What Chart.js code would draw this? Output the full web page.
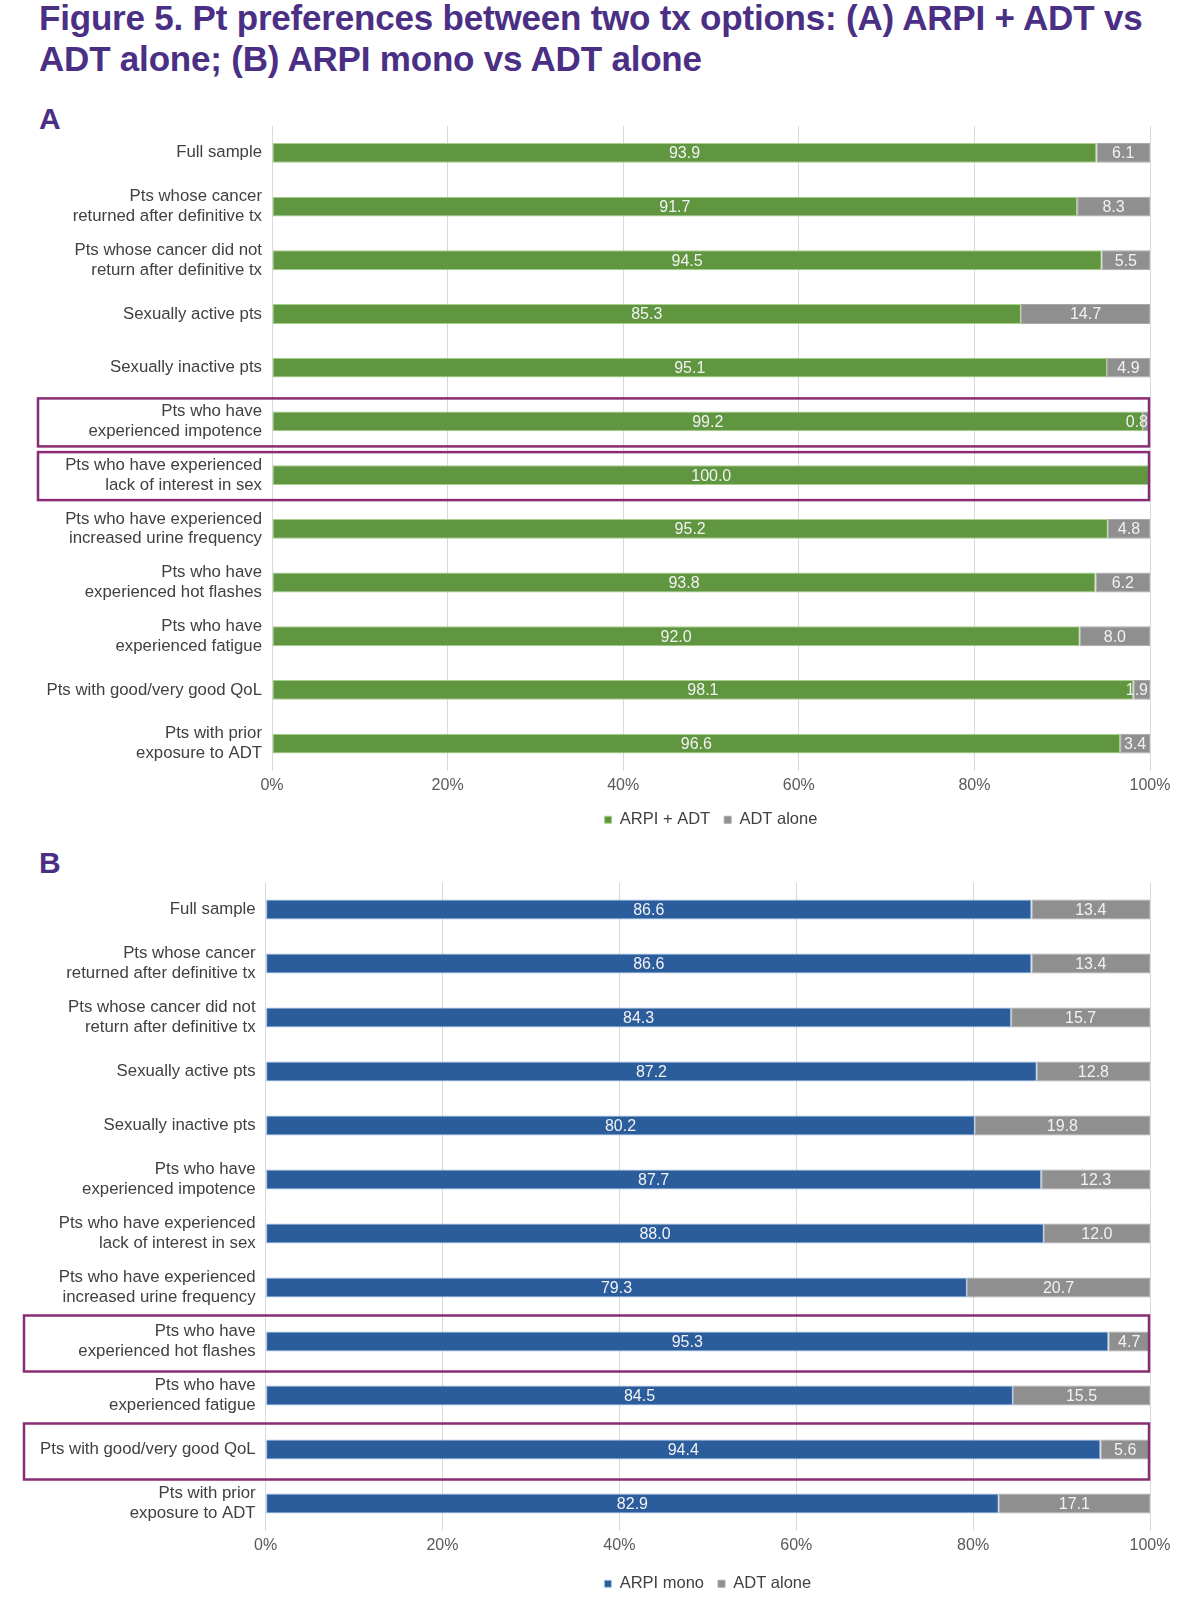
<!DOCTYPE html>
<html>
<head>
<meta charset="utf-8">
<script src="https://cdn.jsdelivr.net/npm/chart.js@4.4.0/dist/chart.umd.min.js"></script>
<style>
  body { margin: 0; background: #fff; width: 1200px; height: 1621px; position: relative; overflow: hidden; font-family: "Liberation Sans", Arial, sans-serif; }
  #title { position: absolute; left: 39px; top: -3px; margin: 0; font-size: 35px; line-height: 41px; font-weight: bold; color: #4a2f85; letter-spacing: -0.2px; }
  .panel { position: absolute; left: 39px; margin: 0; font-size: 30px; font-weight: bold; color: #4a2f85; }
  canvas { position: absolute; left: 0; }
</style>
</head>
<body>
<h1 id="title">Figure 5. Pt preferences between two tx options: (A) ARPI + ADT vs<br>ADT alone; (B) ARPI mono vs ADT alone</h1>
<div class="panel" style="top:102px">A</div>
<div class="panel" style="top:846px">B</div>
<canvas id="chartA" width="1200" height="742" style="top:96px"></canvas>
<canvas id="chartB" width="1200" height="752" style="top:850px"></canvas>
<script>
// row labels (same in both panels)
const categories = [
  "Full sample",
  ["Pts whose cancer", "returned after definitive tx"],
  ["Pts whose cancer did not", "return after definitive tx"],
  "Sexually active pts",
  "Sexually inactive pts",
  ["Pts who have", "experienced impotence"],
  ["Pts who have experienced", "lack of interest in sex"],
  ["Pts who have experienced", "increased urine frequency"],
  ["Pts who have", "experienced hot flashes"],
  ["Pts who have", "experienced fatigue"],
  "Pts with good/very good QoL",
  ["Pts with prior", "exposure to ADT"]
];

// panel A: ARPI + ADT vs ADT alone (%)
const arpiAdt   = [93.9, 91.7, 94.5, 85.3, 95.1, 99.2, 100.0, 95.2, 93.8, 92.0, 98.1, 96.6];
const adtAloneA = [6.1, 8.3, 5.5, 14.7, 4.9, 0.8, 0.0, 4.8, 6.2, 8.0, 1.9, 3.4];

// panel B: ARPI mono vs ADT alone (%)
const arpiMono  = [86.6, 86.6, 84.3, 87.2, 80.2, 87.7, 88.0, 79.3, 95.3, 84.5, 94.4, 82.9];
const adtAloneB = [13.4, 13.4, 15.7, 12.8, 19.8, 12.3, 12.0, 20.7, 4.7, 15.5, 5.6, 17.1];

const xTicks = [0, 20, 40, 60, 80, 100];

// rows outlined in purple
const boxedA = [5, 6];
const boxedB = [8, 10];

const FONT = '"Liberation Sans", Arial, sans-serif';

// light numbers in the middle of every segment (pulled inside the plot when the segment is tiny)
const valueLabels = {
  id: 'valueLabels',
  afterDatasetsDraw(chart) {
    const ctx = chart.ctx;
    const right = chart.chartArea.right;
    ctx.save();
    ctx.font = '16px ' + FONT;
    ctx.fillStyle = '#f2f2f2';
    ctx.textAlign = 'center';
    ctx.textBaseline = 'middle';
    chart.data.datasets.forEach((ds, i) => {
      chart.getDatasetMeta(i).data.forEach((bar, j) => {
        const v = ds.data[j];
        if (!v) return;
        const p = bar.getProps(['x', 'y', 'base'], true);
        const txt = v.toFixed(1);
        const half = ctx.measureText(txt).width / 2;
        const x = Math.min((p.x + p.base) / 2, right - half - 2);
        ctx.fillText(txt, x, p.y + 1);
      });
    });
    ctx.restore();
  }
};

// purple outline round highlighted rows
const rowBoxes = {
  id: 'rowBoxes',
  afterDraw(chart, args, opts) {
    const ctx = chart.ctx;
    const y = chart.scales.y;
    ctx.save();
    ctx.strokeStyle = '#8a2c74';
    ctx.lineWidth = 2.5;
    opts.rows.forEach(r => {
      const c = y.getPixelForValue(r);
      ctx.strokeRect(opts.left, c - opts.up, chart.chartArea.right - 1 - opts.left, opts.up + opts.down);
    });
    ctx.restore();
  }
};

function makeChart(id, first, second, names, colors, borders, yWidth, pad, xHeight, boxes) {
  new Chart(document.getElementById(id), {
    type: 'bar',
    data: {
      labels: categories,
      datasets: [
        { label: names[0], data: first, backgroundColor: colors[0], borderColor: borders[0], borderWidth: 1, borderSkipped: false },
        { label: names[1], data: second, backgroundColor: colors[1], borderColor: borders[1], borderWidth: 1, borderSkipped: false }
      ]
    },
    options: {
      indexAxis: 'y',
      responsive: false,
      animation: false,
      events: [],
      barPercentage: 0.37,
      categoryPercentage: 1,
      layout: { padding: pad },
      scales: {
        x: {
          stacked: true, min: 0, max: 100,
          afterBuildTicks: s => { s.ticks = xTicks.map(v => ({ value: v })); },
          afterFit: s => { s.height = xHeight; },
          grid: { color: '#d9d9d9', drawTicks: false },
          border: { display: false },
          ticks: { padding: 5, color: '#595959', font: { family: FONT, size: 16 }, callback: v => v + '%' }
        },
        y: {
          stacked: true,
          afterFit: s => { s.width = yWidth; },
          grid: { display: false, drawTicks: false },
          border: { display: false },
          ticks: { padding: 10, color: '#404040', font: { family: FONT, size: 16.8, lineHeight: 1.17 } }
        }
      },
      plugins: {
        legend: {
          position: 'bottom',
          fullSize: false,
          labels: {
            usePointStyle: true, pointStyle: 'rect', boxWidth: 7, boxHeight: 7,
            padding: 14, color: '#404040', font: { family: FONT, size: 16.5 }
          }
        },
        tooltip: { enabled: false },
        rowBoxes: boxes
      }
    },
    plugins: [valueLabels, rowBoxes]
  });
}

makeChart('chartA', arpiAdt, adtAloneA, ['ARPI + ADT', 'ADT alone'],
  ['#5f963f', '#8f8f8f'], ['#a9cf8c', '#a8a8a8'],
  272, { top: 30, right: 50, bottom: 0, left: 0 }, 27,
  { rows: boxedA, left: 38, up: 23, down: 25 });

makeChart('chartB', arpiMono, adtAloneB, ['ARPI mono', 'ADT alone'],
  ['#2b5c9c', '#8f8f8f'], ['#9fc3e6', '#a8a8a8'],
  265.6, { top: 32.5, right: 50, bottom: 0, left: 0 }, 31,
  { rows: boxedB, left: 24, up: 26, down: 30 });
</script>
</body>
</html>
